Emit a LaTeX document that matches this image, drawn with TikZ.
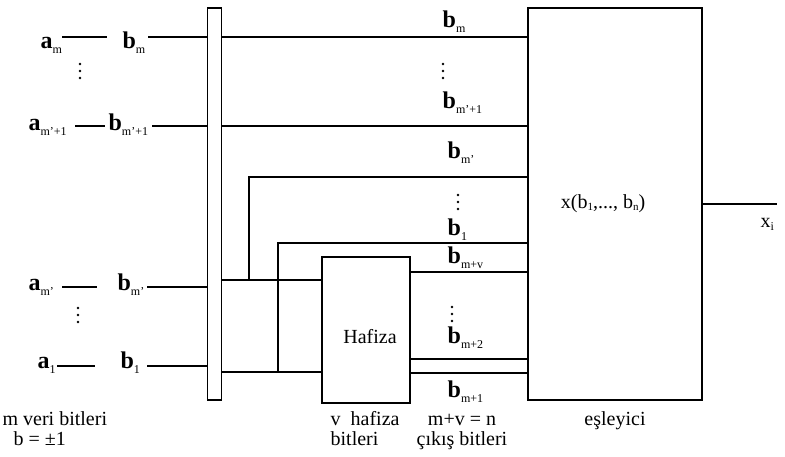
\documentclass[tikz,border=0pt]{standalone}
\usepackage{fontspec}
\setmainfont{Liberation Serif}
\newcommand\sbs[1]{\raisebox{-5pt}{\fontsize{12}{12}\selectfont #1}}
\newcommand\ab[2]{{\fontsize{24}{26}\selectfont\textbf{#1}}\sbs{#2}}
\begin{document}
\begin{tikzpicture}[x=1pt,y=-1pt,line width=1.3pt,
  lbl/.style={inner sep=0pt,anchor=base west,font=\fontsize{20}{24}\selectfont},
  ctr/.style={inner sep=0pt,anchor=base,font=\fontsize{20}{24}\selectfont},
  two/.style={inner sep=0pt,anchor=base,font=\fontsize{20}{20}\selectfont},
  blk/.style={draw,inner sep=0pt,line width=1.5pt},
  dot/.style={circle,fill,inner sep=0pt,minimum size=2.6pt}]
\useasboundingbox (0,0) rectangle (785,456);

% blocks
\node[blk,minimum width=14pt,minimum height=392pt] (bus) at (214.5,204) {};
\node[blk,minimum width=88pt,minimum height=146pt] (haf) at (366,330) {};
\node[blk,minimum width=174pt,minimum height=392pt] (esl) at (615,204) {};
\node[ctr] (haft) at (370,343) {Hafiza};
\node[ctr] (eslt) at (603,208) {x(b\raisebox{-2pt}{\fontsize{11}{11}\selectfont 1},..., b\raisebox{-2pt}{\fontsize{11}{11}\selectfont n})};

% left labels
\node[lbl] (am)  at (40,48)  {\ab{a}{m}};
\node[lbl] (bm)  at (122,48) {\ab{b}{m}};
\node[lbl] (am1) at (28,130) {\ab{a}{m'+1}};
\node[lbl] (bm1) at (108,130){\ab{b}{m'+1}};
\node[lbl] (amp) at (28,290) {\ab{a}{m'}};
\node[lbl] (bmp) at (117,290){\ab{b}{m'}};
\node[lbl] (a1)  at (37,368) {\ab{a}{1}};
\node[lbl] (b1)  at (120,368){\ab{b}{1}};

% right labels
\node[lbl] (rbm)   at (442,27)  {\ab{b}{m}};
\node[lbl] (rbm1)  at (442,108) {\ab{b}{m'+1}};
\node[lbl] (rbmp)  at (447,158) {\ab{b}{m'}};
\node[lbl] (rb1)   at (447,235) {\ab{b}{1}};
\node[lbl] (rbmv)  at (447,263) {\ab{b}{m+v}};
\node[lbl] (rbm2)  at (447,343) {\ab{b}{m+2}};
\node[lbl] (rbmq)  at (447,397) {\ab{b}{m+1}};

% vertical ellipses
\foreach \x/\y [count=\i] in {80/64, 78/308, 443/64, 458/195, 452/307}{
  \node[dot] (d\i a) at (\x,\y) {};
  \node[dot] (d\i b) at (\x,\y+7) {};
  \node[dot] (d\i c) at (\x,\y+14) {};
}

% bottom captions
\node[lbl] (c1a) at (2,425)   {m veri bitleri};
\node[lbl] (c1b) at (13,445)  {b = ±1};
\node[two,anchor=base west,align=left] (c2) at (330,445) {v\ \ hafiza\\bitleri};
\node[two,align=center] (c3) at (462,445) {m+v = n\\çıkış bitleri};
\node[ctr] (c4)  at (615,425) {eşleyici};
\node[lbl] (xi)  at (760,227) {x\raisebox{-3pt}{\fontsize{12}{12}\selectfont i}};

% level coordinates
\coordinate (L1) at (0,37);
\coordinate (L2) at (0,126);
\coordinate (L3) at (0,287);
\coordinate (L4) at (0,366);
\coordinate (L5) at (0,280);
\coordinate (L6) at (0,372);
\coordinate (R1) at (0,177);
\coordinate (R2) at (0,243);
\coordinate (R3) at (0,272);
\coordinate (R4) at (0,359);
\coordinate (R5) at (0,373);
\coordinate (V1) at (249,0);
\coordinate (V2) at (278,0);

% a -- b connectors
\coordinate (s1) at (62,37);  \coordinate (e1) at (107,37);
\coordinate (s2) at (75,126); \coordinate (e2) at (105,126);
\coordinate (s3) at (62,287); \coordinate (e3) at (97,287);
\coordinate (s4) at (57,366); \coordinate (e4) at (95,366);
\draw (s1) -- (e1);
\draw (s2) -- (e2);
\draw (s3) -- (e3);
\draw (s4) -- (e4);

% b -- bus
\coordinate (f1) at (148,37);
\coordinate (f2) at (152,126);
\coordinate (f3) at (147,287);
\coordinate (f4) at (147,366);
\draw (f1) -- (bus.west |- L1);
\draw (f2) -- (bus.west |- L2);
\draw (f3) -- (bus.west |- L3);
\draw (f4) -- (bus.west |- L4);

% bus -- mapper
\draw (bus.east |- L1) -- (esl.west |- L1);
\draw (bus.east |- L2) -- (esl.west |- L2);
\draw (bus.east |- L5) -- (haf.west |- L5);
\draw (V1 |- L5) -- (V1 |- R1) -- (esl.west |- R1);
\draw (bus.east |- L6) -- (haf.west |- L6);
\draw (V2 |- L6) -- (V2 |- R2) -- (esl.west |- R2);

% memory -- mapper
\draw (haf.east |- R3) -- (esl.west |- R3);
\draw (haf.east |- R4) -- (esl.west |- R4);
\draw (haf.east |- R5) -- (esl.west |- R5);

% output
\coordinate (xo) at (777,204);
\draw (esl.east) -- (xo);
\end{tikzpicture}
\end{document}
